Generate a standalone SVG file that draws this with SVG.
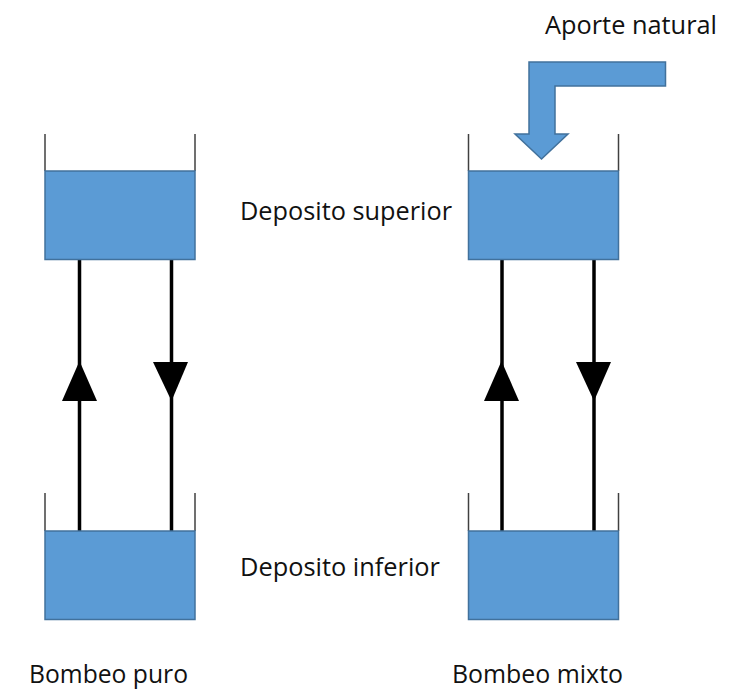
<svg xmlns="http://www.w3.org/2000/svg" width="731" height="690" viewBox="0 0 731 690">
<style>
.tank{fill:#5B9BD5;stroke:#41719C;stroke-width:1.5}
.wall{stroke:#404040;stroke-width:1.5;fill:none}
.pipe{stroke:#000;stroke-width:3.5;fill:none}
.head{fill:#000}
.lbl{font-family:"Open Sans","Noto Sans","Liberation Sans",sans-serif;font-size:26px;fill:#111}
</style>
<rect width="731" height="690" fill="#fff"/>
<g id="connectors">
<line class="pipe" x1="79.5" y1="260" x2="79.5" y2="531"/>
<polygon class="head" points="79.5,361 97,401 62,401"/>
<line class="pipe" x1="171.5" y1="260" x2="171.5" y2="531"/>
<polygon class="head" points="153,362 188,362 171.5,401"/>
<line class="pipe" x1="502" y1="260" x2="502" y2="531"/>
<polygon class="head" points="501.5,361 519,401 484,401"/>
<line class="pipe" x1="594" y1="260" x2="594" y2="531"/>
<polygon class="head" points="576,362 611,362 594,401"/>
</g>
<g id="puro-superior">
<line class="wall" x1="45" y1="134" x2="45" y2="171"/>
<line class="wall" x1="195" y1="134" x2="195" y2="171"/>
<rect class="tank" x="45" y="171" width="150" height="88.5"/>
</g>
<g id="puro-inferior">
<line class="wall" x1="45" y1="493" x2="45" y2="531"/>
<line class="wall" x1="195" y1="493" x2="195" y2="531"/>
<rect class="tank" x="45" y="531" width="150" height="88.5"/>
</g>
<g id="mixto-superior">
<line class="wall" x1="468.5" y1="134" x2="468.5" y2="171"/>
<line class="wall" x1="618.5" y1="134" x2="618.5" y2="171"/>
<rect class="tank" x="468.5" y="171" width="150" height="88.5"/>
</g>
<g id="mixto-inferior">
<line class="wall" x1="468.5" y1="493" x2="468.5" y2="531"/>
<line class="wall" x1="618.5" y1="493" x2="618.5" y2="531"/>
<rect class="tank" x="468.5" y="531" width="150" height="88.5"/>
</g>
<g id="aporte">
<polygon class="tank" points="529,62 665.5,62 665.5,86 555,86 555,134 568,134 541.5,159 515,134 529,134"/>
<text class="lbl" x="545" y="33.5" textLength="172" lengthAdjust="spacingAndGlyphs">Aporte natural</text>
</g>
<g id="labels">
<text class="lbl" x="240" y="219.5" textLength="212" lengthAdjust="spacingAndGlyphs">Deposito superior</text>
<text class="lbl" x="240" y="575.5" textLength="200" lengthAdjust="spacingAndGlyphs">Deposito inferior</text>
<text class="lbl" x="29" y="682.5" textLength="159" lengthAdjust="spacingAndGlyphs">Bombeo puro</text>
<text class="lbl" x="452" y="682.5" textLength="171" lengthAdjust="spacingAndGlyphs">Bombeo mixto</text>
</g>
</svg>
